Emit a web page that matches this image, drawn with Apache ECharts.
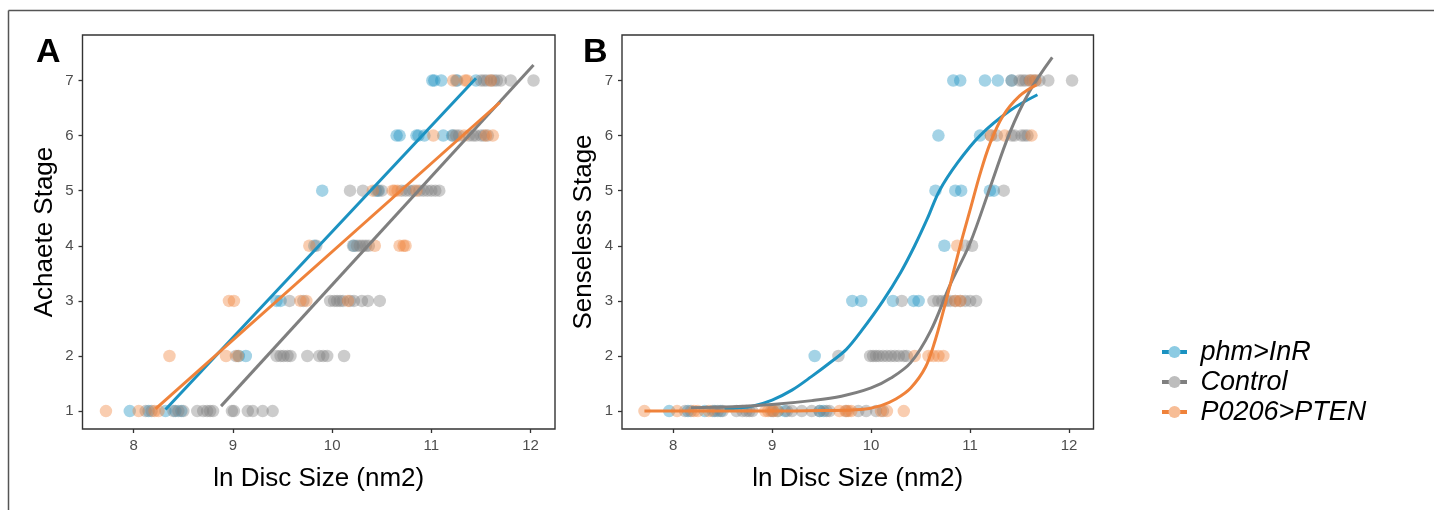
<!DOCTYPE html>
<html>
<head>
<meta charset="utf-8">
<script src="https://cdn.jsdelivr.net/npm/echarts@6/dist/echarts.min.js"></script>
<style>
  html, body { margin: 0; padding: 0; background: #ffffff; }
  #chart { width: 1434px; height: 510px; }
</style>
</head>
<body>
<div id="chart"></div>
<script>
// Genotype labels
const groups = ['phm>InR', 'Control', 'P0206>PTEN'];

// Tick values
const xTicks = [8, 9, 10, 11, 12];
const yTicks = [1, 2, 3, 4, 5, 6, 7];

// Panel A: Achaete stage against ln disc size, one [size, stage] pair per disc
const achInR = [
  [7.96, 1], [8.15, 1], [8.32, 1], [8.42, 1], [8.48, 1],
  [9.06, 2], [9.13, 2],
  [9.44, 3], [9.48, 3],
  [9.82, 4], [10.22, 4],
  [9.90, 5], [10.44, 5], [10.47, 5],
  [10.65, 6], [10.68, 6], [10.85, 6], [10.87, 6], [10.93, 6], [11.12, 6], [11.21, 6],
  [11.01, 7], [11.03, 7], [11.10, 7], [11.26, 7], [11.45, 7]
];
const achControl = [
  [8.12, 1], [8.18, 1], [8.40, 1], [8.45, 1], [8.50, 1], [8.64, 1], [8.70, 1], [8.74, 1],
  [8.77, 1], [8.80, 1], [8.99, 1], [9.01, 1], [9.15, 1], [9.20, 1], [9.30, 1], [9.40, 1],
  [9.03, 2], [9.44, 2], [9.48, 2], [9.51, 2], [9.55, 2], [9.58, 2], [9.75, 2], [9.87, 2],
  [9.91, 2], [9.95, 2], [10.12, 2],
  [9.57, 3], [9.71, 3], [9.98, 3], [10.02, 3], [10.05, 3], [10.08, 3], [10.11, 3],
  [10.18, 3], [10.22, 3], [10.30, 3], [10.36, 3], [10.48, 3],
  [9.84, 4], [10.21, 4], [10.25, 4], [10.28, 4], [10.31, 4], [10.34, 4], [10.37, 4],
  [10.18, 5], [10.31, 5], [10.46, 5], [10.50, 5], [10.70, 5], [10.74, 5], [10.78, 5],
  [10.82, 5], [10.88, 5], [10.92, 5], [10.96, 5], [11.00, 5], [11.04, 5], [11.08, 5],
  [11.22, 6], [11.25, 6], [11.28, 6], [11.38, 6], [11.42, 6], [11.45, 6], [11.50, 6],
  [11.53, 6], [11.57, 6],
  [11.25, 7], [11.50, 7], [11.53, 7], [11.56, 7], [11.60, 7], [11.63, 7], [11.66, 7],
  [11.70, 7], [11.80, 7], [12.03, 7]
];
const achPTEN = [
  [7.72, 1], [8.05, 1], [8.21, 1], [8.25, 1],
  [8.36, 2], [8.93, 2], [9.05, 2],
  [8.96, 3], [9.01, 3], [9.68, 3], [9.74, 3], [10.16, 3],
  [9.77, 4], [10.43, 4], [10.68, 4], [10.72, 4], [10.74, 4],
  [10.41, 5], [10.61, 5], [10.63, 5], [10.66, 5], [10.85, 5],
  [11.02, 6], [11.33, 6], [11.55, 6], [11.62, 6],
  [11.22, 7], [11.34, 7], [11.36, 7], [11.60, 7]
];

// Panel A: straight-line fits (end points)
const achFitInR = [[8.32, 1.03], [11.45, 7.04]];
const achFitControl = [[8.88, 1.09], [12.03, 7.28]];
const achFitPTEN = [[8.22, 1.04], [11.69, 6.60]];

// Panel B: Senseless stage against ln disc size
const senInR = [
  [7.96, 1], [8.15, 1], [8.32, 1], [8.42, 1], [8.48, 1], [9.06, 1], [9.13, 1], [9.48, 1], [9.52, 1],
  [9.43, 2],
  [9.81, 3], [9.90, 3], [10.22, 3], [10.43, 3], [10.48, 3],
  [10.74, 4],
  [10.65, 5], [10.85, 5], [10.91, 5], [11.20, 5], [11.24, 5],
  [10.68, 6], [11.10, 6],
  [10.83, 7], [10.90, 7], [11.15, 7], [11.28, 7], [11.42, 7]
];
const senControl = [
  [8.12, 1], [8.18, 1], [8.40, 1], [8.45, 1], [8.50, 1], [8.64, 1], [8.70, 1], [8.74, 1],
  [8.77, 1], [8.80, 1], [8.99, 1], [9.01, 1], [9.15, 1], [9.20, 1], [9.30, 1], [9.40, 1],
  [9.48, 1], [9.55, 1], [9.58, 1], [9.75, 1], [9.87, 1], [9.95, 1], [10.05, 1], [10.12, 1],
  [9.67, 2], [9.99, 2], [10.02, 2], [10.05, 2], [10.08, 2], [10.12, 2], [10.16, 2],
  [10.20, 2], [10.24, 2], [10.28, 2], [10.33, 2], [10.36, 2],
  [10.31, 3], [10.63, 3], [10.68, 3], [10.72, 3], [10.76, 3], [10.80, 3], [10.85, 3],
  [10.90, 3], [10.95, 3], [11.00, 3], [11.06, 3],
  [10.95, 4], [11.02, 4],
  [11.34, 5],
  [11.21, 6], [11.27, 6], [11.42, 6], [11.45, 6], [11.52, 6], [11.55, 6], [11.58, 6],
  [11.42, 7], [11.50, 7], [11.53, 7], [11.56, 7], [11.60, 7], [11.63, 7], [11.66, 7],
  [11.70, 7], [11.79, 7], [12.03, 7]
];
const senPTEN = [
  [7.71, 1], [8.04, 1], [8.21, 1], [8.25, 1], [8.36, 1], [8.93, 1], [8.96, 1], [9.01, 1],
  [9.05, 1], [9.68, 1], [9.74, 1], [9.77, 1], [9.80, 1], [10.10, 1], [10.16, 1], [10.33, 1],
  [10.44, 2], [10.58, 2], [10.63, 2], [10.68, 2], [10.73, 2],
  [10.85, 3], [10.90, 3],
  [10.87, 4],
  [11.21, 6], [11.35, 6], [11.62, 6],
  [11.61, 7], [11.66, 7]
];

// Panel B: fitted curves, traced as [size, stage] points
const senFitInR = [
  [8.52, 1.03], [8.8, 1.09], [9.0, 1.2], [9.2, 1.38], [9.4, 1.63], [9.6, 1.9], [9.75, 2.12],
  [9.9, 2.45], [10.12, 3.0], [10.3, 3.52], [10.44, 4.0], [10.57, 4.5], [10.69, 5.0],
  [10.87, 5.5], [11.1, 6.0], [11.4, 6.45], [11.68, 6.74]
];
const senFitControl = [
  [8.18, 1.06], [8.6, 1.08], [9.0, 1.12], [9.4, 1.19], [9.7, 1.27], [10.0, 1.42], [10.2, 1.6],
  [10.4, 1.88], [10.6, 2.45], [10.8, 3.3], [11.0, 4.05], [11.2, 5.05], [11.4, 6.05],
  [11.6, 6.8], [11.83, 7.42]
];
const senFitPTEN = [
  [7.71, 1.0], [8.5, 1.0], [9.0, 1.0], [9.5, 1.01], [9.9, 1.03], [10.1, 1.1], [10.25, 1.22],
  [10.4, 1.42], [10.55, 1.8], [10.65, 2.3], [10.72, 2.75], [10.8, 3.3], [10.9, 4.0],
  [11.0, 4.65], [11.1, 5.3], [11.2, 5.85], [11.33, 6.35], [11.5, 6.72], [11.67, 6.92]
];

const lineColors = ['#1b92c1', '#7f7f7f', '#ef823a'];
const pointColors = ['rgba(27,146,193,0.5)', 'rgba(127,127,127,0.5)', 'rgba(239,130,58,0.5)'];
const keyDotColors = ['#8ccbe3', '#bdbdbd', '#f7bd96'];

const FONT = '"Liberation Sans", Arial, Helvetica, sans-serif';
const X_MIN = 7.4835, X_MAX = 12.2465;
const Y_MIN = 0.675, Y_MAX = 7.825;

function xAxisFor(gridIndex) {
  return {
    type: 'value', gridIndex, min: X_MIN, max: X_MAX,
    name: 'ln Disc Size (nm2)', nameLocation: 'middle', nameGap: 37,
    nameTextStyle: { fontFamily: FONT, fontSize: 26, color: '#000' },
    axisLine: { show: false },
    splitLine: { show: false },
    axisTick: { show: true, length: 4, lineStyle: { color: '#333', width: 1.3 }, customValues: xTicks },
    axisLabel: { fontFamily: FONT, fontSize: 15, color: '#4d4d4d', margin: 9, customValues: xTicks }
  };
}
function yAxisFor(gridIndex, title) {
  return {
    type: 'value', gridIndex, min: Y_MIN, max: Y_MAX,
    name: title, nameLocation: 'middle', nameGap: 25,
    nameTextStyle: { fontFamily: FONT, fontSize: 26, color: '#000' },
    axisLine: { show: false },
    splitLine: { show: false },
    axisTick: { show: true, length: 4, lineStyle: { color: '#333', width: 1.3 }, customValues: yTicks },
    axisLabel: { fontFamily: FONT, fontSize: 15, color: '#4d4d4d', margin: 9, customValues: yTicks }
  };
}

function scatter(name, idx, data, panel) {
  return {
    type: 'scatter', name, data, xAxisIndex: panel, yAxisIndex: panel,
    symbol: 'circle', symbolSize: 12.5,
    itemStyle: { color: pointColors[idx], borderWidth: 0 },
    z: 2, silent: true
  };
}
function fit(name, idx, data, panel, smooth) {
  return {
    type: 'line', name, data, xAxisIndex: panel, yAxisIndex: panel,
    showSymbol: false, symbol: 'none', smooth: smooth ? 0.35 : false,
    lineStyle: { color: lineColors[idx], width: 3 },
    z: 5, silent: true
  };
}

const keyText = { fontFamily: FONT, fontSize: 27, fontStyle: 'italic', lineHeight: 27 };

const option = {
  animation: false,
  backgroundColor: '#ffffff',
  grid: [
    { left: 82.5, top: 35, width: 472.5, height: 394, show: true, borderColor: '#333', borderWidth: 1.4, backgroundColor: 'transparent' },
    { left: 622, top: 35, width: 471.5, height: 394, show: true, borderColor: '#333', borderWidth: 1.4, backgroundColor: 'transparent' }
  ],
  xAxis: [xAxisFor(0), xAxisFor(1)],
  yAxis: [yAxisFor(0, 'Achaete Stage'), yAxisFor(1, 'Senseless Stage')],
  legend: [
    {
      orient: 'vertical', left: 1157, top: 333.5, itemGap: 3, selectedMode: false,
      itemWidth: 25, itemHeight: 4, icon: 'rect',
      textStyle: Object.assign({ color: 'rgba(0,0,0,0)', padding: [0, 0, 0, 8] }, keyText),
      data: groups.map((g, i) => ({ name: g, itemStyle: { color: lineColors[i], opacity: 1 } }))
    },
    {
      orient: 'vertical', left: 1163.5, top: 333.5, itemGap: 3, selectedMode: false,
      itemWidth: 12, itemHeight: 12, icon: 'circle',
      textStyle: Object.assign({ color: '#000', padding: [0, 0, 0, 15] }, keyText),
      data: groups.map((g, i) => ({ name: g, itemStyle: { color: keyDotColors[i], opacity: 1 } }))
    }
  ],
  graphic: [
    { type: 'line', shape: { x1: 8.5, y1: 10.5, x2: 1434, y2: 10.5 }, style: { stroke: '#555', lineWidth: 1.5 }, silent: true },
    { type: 'line', shape: { x1: 8.5, y1: 10.5, x2: 8.5, y2: 510 }, style: { stroke: '#555', lineWidth: 1.5 }, silent: true },
    { type: 'text', left: 36, top: 36, style: { text: 'A', fontFamily: FONT, fontSize: 34, fontWeight: 'bold', fill: '#000' }, silent: true },
    { type: 'text', left: 583, top: 36, style: { text: 'B', fontFamily: FONT, fontSize: 34, fontWeight: 'bold', fill: '#000' }, silent: true }
  ],
  series: [
    scatter(groups[0], 0, achInR, 0),
    scatter(groups[1], 1, achControl, 0),
    scatter(groups[2], 2, achPTEN, 0),
    scatter(groups[0], 0, senInR, 1),
    scatter(groups[1], 1, senControl, 1),
    scatter(groups[2], 2, senPTEN, 1),
    fit(groups[0], 0, achFitInR, 0, false),
    fit(groups[1], 1, achFitControl, 0, false),
    fit(groups[2], 2, achFitPTEN, 0, false),
    fit(groups[0], 0, senFitInR, 1, true),
    fit(groups[1], 1, senFitControl, 1, true),
    fit(groups[2], 2, senFitPTEN, 1, true)
  ]
};

const chart = echarts.init(document.getElementById('chart'), null, { renderer: 'canvas' });
chart.setOption(option);
</script>
</body>
</html>
